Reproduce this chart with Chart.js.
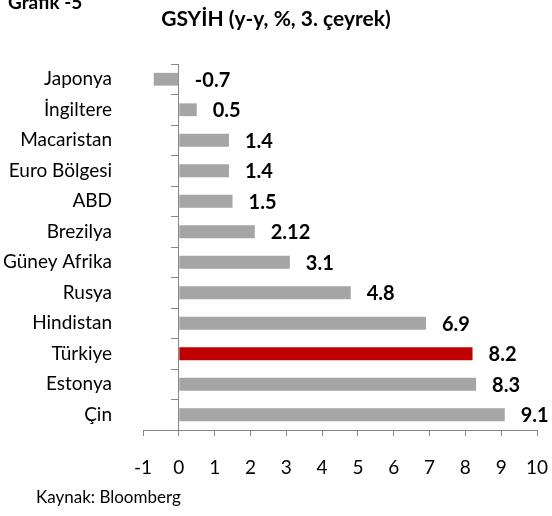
<!DOCTYPE html>
<html>
<head>
<meta charset="utf-8">
<script src="https://cdn.jsdelivr.net/npm/chart.js@4.4.0/dist/chart.umd.min.js"></script>
<style>
    html, body { margin: 0; padding: 0; background: #fff; }
    #wrap { position: relative; width: 552px; height: 516px; font-family: Lato, sans-serif; color: #000; }
    #grafik { position: absolute; left: 8px; top: -9px; font-weight: bold; font-size: 19px; line-height: 1.2; }
    #title { position: absolute; left: 0; width: 552px; top: 5px; text-align: center; font-weight: bold; font-size: 21px; line-height: 1.2; }
    #source { position: absolute; left: 36px; top: 487px; font-size: 17px; line-height: 1.2; }
    canvas { position: absolute; left: 0; top: 0; }
</style>
</head>
<body>
<div id="wrap">
    <canvas id="chart" width="552" height="516"></canvas>
    <div id="grafik">Grafik -5</div>
    <div id="title">GSYİH (y-y, %, 3. çeyrek)</div>
    <div id="source">Kaynak: Bloomberg</div>
</div>
<script>
// --- Data ---
const countries = ['Japonya', 'İngiltere', 'Macaristan', 'Euro Bölgesi', 'ABD', 'Brezilya',
    'Güney Afrika', 'Rusya', 'Hindistan', 'Türkiye', 'Estonya', 'Çin'];
const gdpGrowth = [-0.7, 0.5, 1.4, 1.4, 1.5, 2.12, 3.1, 4.8, 6.9, 8.2, 8.3, 9.1];
const highlighted = 'Türkiye';
const xMin = -1;
const xMax = 10;

const GRAY = '#A5A5A5';
const RED = '#C00000';
const AXIS = '#868686';
const FONT = 'Lato, sans-serif';

// bold value next to each bar end (negatives are labelled on the right of zero too)
const valueLabels = {
    id: 'valueLabels',
    afterDatasetsDraw(chart) {
        const { ctx, scales } = chart;
        const meta = chart.getDatasetMeta(0);
        ctx.save();
        ctx.font = 'bold 20px ' + FONT;
        ctx.fillStyle = '#000';
        ctx.textAlign = 'left';
        ctx.textBaseline = 'middle';
        meta.data.forEach((bar, i) => {
            const v = gdpGrowth[i];
            const x = scales.x.getPixelForValue(Math.max(v, 0)) + 16;
            ctx.fillText(String(v), x, bar.y + 1);
        });
        ctx.restore();
    }
};

new Chart(document.getElementById('chart'), {
    type: 'bar',
    data: {
        labels: countries,
        datasets: [{
            data: gdpGrowth,
            backgroundColor: countries.map(c => c === highlighted ? RED : GRAY),
            barPercentage: 0.42,
            categoryPercentage: 1,
            yAxisID: 'y'
        }]
    },
    options: {
        indexAxis: 'y',
        responsive: false,
        animation: false,
        layout: { padding: { top: 64, right: 15, left: 0, bottom: 0 } },
        plugins: {
            legend: { display: false },
            tooltip: { enabled: false },
            title: { display: false }
        },
        scales: {
            x: {
                type: 'linear',
                min: xMin,
                max: xMax,
                ticks: { stepSize: 1, color: '#000', font: { family: FONT, size: 19 }, padding: 20 },
                grid: { drawOnChartArea: false, tickLength: 6, color: AXIS },
                border: { color: AXIS },
                afterFit: s => { s.height = 86; s.paddingLeft = 0; s.paddingRight = 0; }
            },
            y: {
                type: 'category',
                position: 'left',
                offset: true,
                ticks: { color: '#000', font: { family: FONT, size: 19 }, padding: 23 },
                grid: { display: false },
                border: { display: false },
                afterFit: s => { s.width = 143; }
            },
            // axis line through zero, ticks between categories
            y2: {
                type: 'category',
                labels: countries,
                position: { x: 0 },
                offset: true,
                ticks: { display: false },
                grid: { offset: true, drawOnChartArea: false, tickLength: 7, color: AXIS },
                border: { color: AXIS }
            }
        }
    },
    plugins: [valueLabels]
});
</script>
</body>
</html>
